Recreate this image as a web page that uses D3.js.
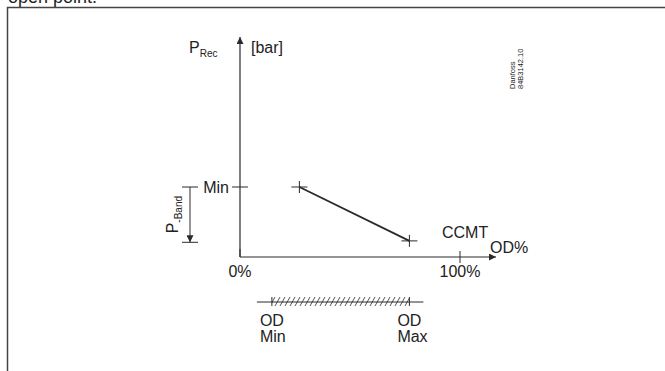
<!DOCTYPE html>
<html>
<head>
<meta charset="utf-8">
<script src="https://cdn.jsdelivr.net/npm/d3@7"></script>
<style>
body { margin: 0; background: #fff; }
svg text { font-family: "Liberation Sans", Arial, sans-serif; fill: #222; }
</style>
</head>
<body>
<svg id="chart" width="665" height="371"></svg>
<script>
// values (x in OD%, y in relative pressure: 1 = Min)
var xTicks = [0, 100];
var xTickLabels = ["0%", "100%"];
var lineX = [27, 77];
var lineY = [1, 0.23];
var odRange = [14.5, 77];
var bandY = [1, 0.21];

var svg = d3.select("#chart");

var x = d3.scaleLinear().domain([0, 100]).range([240, 460]);
var y = d3.scaleLinear().domain([0, 1]).range([257, 187]);

var ink = "#2a2a2a";

// frame + clipped heading
svg.append("text").attr("x", 8).attr("y", 3).style("font-size", "18px").text("open point.");
svg.append("path").attr("d", "M7.5,371V7.5H665").attr("fill", "none").attr("stroke", "#444").attr("stroke-width", 1.5);

// arrowhead
var defs = svg.append("defs");
defs.append("marker")
    .attr("id", "arr").attr("viewBox", "0 0 10 10").attr("refX", 10).attr("refY", 5)
    .attr("markerWidth", 15).attr("markerHeight", 7).attr("markerUnits", "userSpaceOnUse")
    .attr("orient", "auto")
    .append("path").attr("d", "M0,0L10,5L0,10Z").attr("fill", ink);

var g = svg.append("g");

// axes
g.append("line").attr("x1", x(0)).attr("y1", y(0)).attr("x2", x(0)).attr("y2", 37)
    .attr("stroke", ink).attr("stroke-width", 1.2).attr("marker-end", "url(#arr)");
g.append("line").attr("x1", x(0)).attr("y1", y(0)).attr("x2", 496).attr("y2", y(0))
    .attr("stroke", ink).attr("stroke-width", 1.2).attr("marker-end", "url(#arr)");

// x ticks
g.selectAll(".xt").data(xTicks).enter().append("line")
    .attr("x1", function (d) { return x(d); }).attr("x2", function (d) { return x(d); })
    .attr("y1", function (d) { return d === 0 ? y(0) - 8 : y(0) - 6; })
    .attr("y2", function (d) { return d === 0 ? y(0) : y(0) + 6; })
    .attr("stroke", ink);
g.selectAll(".xl").data(xTicks).enter().append("text")
    .attr("x", function (d) { return x(d); }).attr("y", y(0) + 20)
    .attr("text-anchor", "middle").style("font-size", "16px")
    .text(function (d, i) { return xTickLabels[i]; });

// Min tick on y
g.append("line").attr("x1", x(0) - 8).attr("x2", x(0) + 8).attr("y1", y(1)).attr("y2", y(1)).attr("stroke", ink);
g.append("text").attr("x", x(0) - 11).attr("y", y(1) + 6).attr("text-anchor", "end").style("font-size", "16px").text("Min");

// axis labels
var pr = g.append("text").attr("x", 189).attr("y", 53).style("font-size", "16px");
pr.append("tspan").text("P");
pr.append("tspan").attr("dy", 4).style("font-size", "10px").text("Rec");
g.append("text").attr("x", 251).attr("y", 53).style("font-size", "16px").text("[bar]");
g.append("text").attr("x", 442).attr("y", 238).style("font-size", "16px").text("CCMT");
g.append("text").attr("x", 490).attr("y", 253).style("font-size", "16px").text("OD%");

// characteristic line
var pts = lineX.map(function (d, i) { return [x(d), y(lineY[i])]; });
g.append("path").attr("d", d3.line()(pts)).attr("fill", "none").attr("stroke", ink).attr("stroke-width", 1.8);
g.selectAll(".cross").data(pts).enter().append("path")
    .attr("d", function (d) { return "M" + (d[0] - 8) + "," + d[1] + "h16M" + d[0] + "," + (d[1] - 6) + "v12"; })
    .attr("stroke", ink).attr("stroke-width", 1);

// P-Band arrow
var bx = 190;
g.append("line").attr("x1", bx - 8).attr("x2", bx + 8).attr("y1", y(bandY[0])).attr("y2", y(bandY[0])).attr("stroke", ink);
g.append("line").attr("x1", bx - 8).attr("x2", bx + 8).attr("y1", y(bandY[1])).attr("y2", y(bandY[1])).attr("stroke", ink);
g.append("line").attr("x1", bx).attr("x2", bx).attr("y1", y(bandY[0])).attr("y2", y(bandY[1]))
    .attr("stroke", ink).attr("marker-end", "url(#arr)");
var pb = g.append("text").attr("transform", "translate(178," + (y(bandY[0]) + y(bandY[1])) / 2 + ") rotate(-90)")
    .attr("text-anchor", "middle").style("font-size", "16px");
pb.append("tspan").text("P");
pb.append("tspan").attr("dy", 4).style("font-size", "10px").text("-Band");

// OD range bar with hatching
var pat = defs.append("pattern").attr("id", "hatch").attr("patternUnits", "userSpaceOnUse")
    .attr("width", 5).attr("height", 9).attr("y", 297);
pat.append("path").attr("d", "M-5,9L0,0M0,9L5,0M5,9L10,0")
    .attr("stroke", ink).attr("stroke-width", 0.8).attr("fill", "none");
var by = 302;
g.append("rect").attr("x", x(odRange[0])).attr("width", x(odRange[1]) - x(odRange[0]))
    .attr("y", by - 5).attr("height", 9).attr("fill", "url(#hatch)");
g.append("line").attr("x1", x(odRange[0]) - 15).attr("x2", x(odRange[1]) + 14).attr("y1", by).attr("y2", by).attr("stroke", ink);
odRange.forEach(function (d) {
    g.append("line").attr("x1", x(d)).attr("x2", x(d)).attr("y1", by - 5).attr("y2", by + 4).attr("stroke", ink);
});
var odText = [["OD", "Min"], ["OD", "Max"]];
odText.forEach(function (t, i) {
    var tx = x(odRange[i]) - 12;
    t.forEach(function (s, j) {
        g.append("text").attr("x", tx).attr("y", by + 24 + j * 16).style("font-size", "16px").text(s);
    });
});

// drawing number
var dn = g.append("text").attr("transform", "translate(515,89) rotate(-90)").style("font-size", "7.5px");
dn.append("tspan").attr("x", 0).attr("dy", 0).text("Danfoss");
dn.append("tspan").attr("x", 0).attr("dy", 8).text("84B3142.10");
</script>
</body>
</html>
